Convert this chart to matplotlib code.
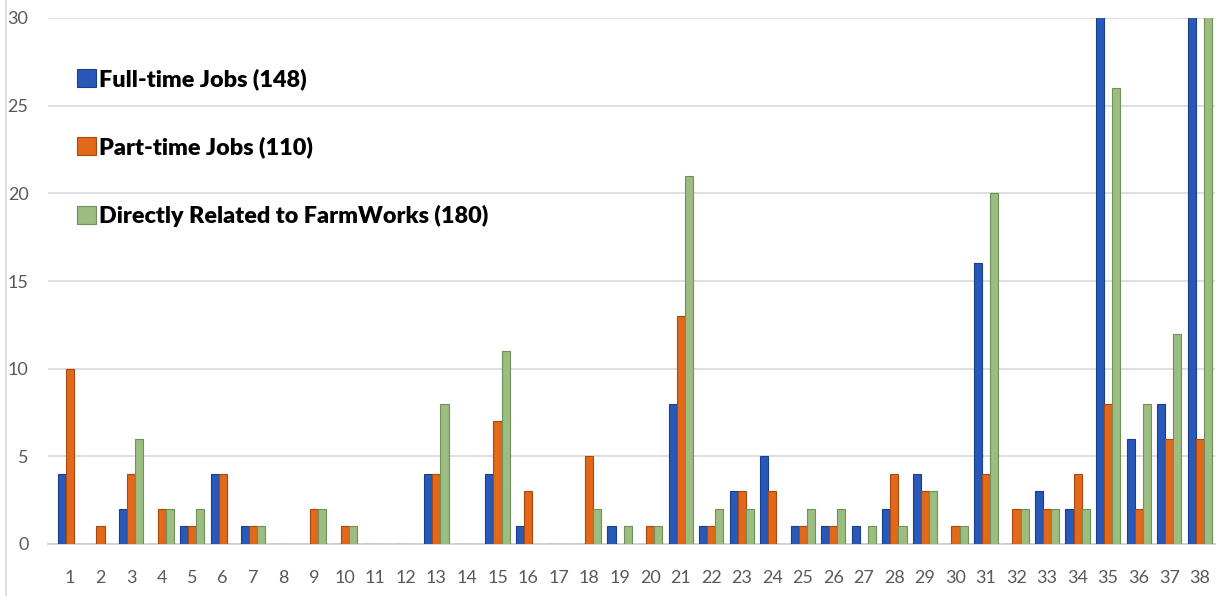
import matplotlib
matplotlib.use("Agg")
import matplotlib.pyplot as plt
import numpy as np
from matplotlib.lines import Line2D
from matplotlib.patches import Patch

categories = [str(i) for i in range(1, 39)]
full_time = [4, 0, 2, 0, 1, 4, 1, 0, 0, 0, 0, 0, 4, 0, 4, 1, 0, 0, 1, 0,
             8, 1, 3, 5, 1, 1, 1, 2, 4, 0, 16, 0, 3, 2, 33, 6, 8, 32]
part_time = [10, 1, 4, 2, 1, 4, 1, 0, 2, 1, 0, 0, 4, 0, 7, 3, 0, 5, 0, 1,
             13, 1, 3, 3, 1, 1, 0, 4, 3, 1, 4, 2, 2, 4, 8, 2, 6, 6]
farmworks = [0, 0, 6, 2, 2, 0, 1, 0, 2, 1, 0, 0, 8, 0, 11, 0, 0, 2, 1, 1,
             21, 2, 2, 0, 2, 2, 1, 1, 3, 1, 20, 2, 2, 2, 26, 8, 12, 36]
series_labels = ["Full-time Jobs (148)", "Part-time Jobs (110)",
                 "Directly Related to FarmWorks (180)"]
y_ticks = [0, 5, 10, 15, 20, 25, 30]

face_colors = ["#2858B8", "#E2681A", "#9CBD80"]
edge_colors = ["#173F8A", "#A94810", "#6F905A"]

fig = plt.figure(figsize=(12.17, 6.01), dpi=100)
ax = fig.add_axes([48 / 1217, 1 - 544 / 601, (1215 - 48) / 1217, (544 - 18) / 601])

x = np.arange(1, len(categories) + 1)
w = 0.265
for i, vals in enumerate([full_time, part_time, farmworks]):
    ax.bar(x + (i - 1) * w, vals, width=w, color=face_colors[i],
           edgecolor=edge_colors[i], linewidth=0.8, zorder=3)

ax.set_ylim(0, 30)
ax.set_xlim(0.28, 38.5)
ax.set_yticks(y_ticks)
ax.set_xticks(x)
ax.set_xticklabels(categories)
ax.grid(axis="y", color="#D9D9D9", linewidth=1.2, zorder=0)
ax.set_axisbelow(True)
for s in ["top", "right", "left"]:
    ax.spines[s].set_visible(False)
ax.spines["bottom"].set_color("#D0D0D0")
ax.spines["bottom"].set_linewidth(1.2)
ax.tick_params(axis="both", length=0, labelsize=13, labelcolor="#595959")
ax.tick_params(axis="x", pad=19)
ax.tick_params(axis="y", pad=14)
for lab in ax.get_xticklabels() + ax.get_yticklabels():
    lab.set_fontfamily("Lato")

# faint left border line
fig.add_artist(Line2D([6 / 1217, 6 / 1217], [1 - 595 / 601, 1.0],
                      color="#D9D9D9", linewidth=1.2))

handles = [Patch(facecolor=face_colors[i], edgecolor=edge_colors[i], linewidth=0.8)
           for i in range(3)]
leg = ax.legend(handles, series_labels, loc="upper left",
                bbox_to_anchor=(8 / 1167, 1 - 29 / 526),
                frameon=False, handlelength=0.8, handleheight=0.8,
                handletextpad=0.15, labelspacing=2.0,
                prop={"family": "Lato", "weight": "heavy", "size": 16.8})
for t in leg.get_texts():
    t.set_color("#000000")

fig.savefig("out.png", dpi=100, facecolor="white")
